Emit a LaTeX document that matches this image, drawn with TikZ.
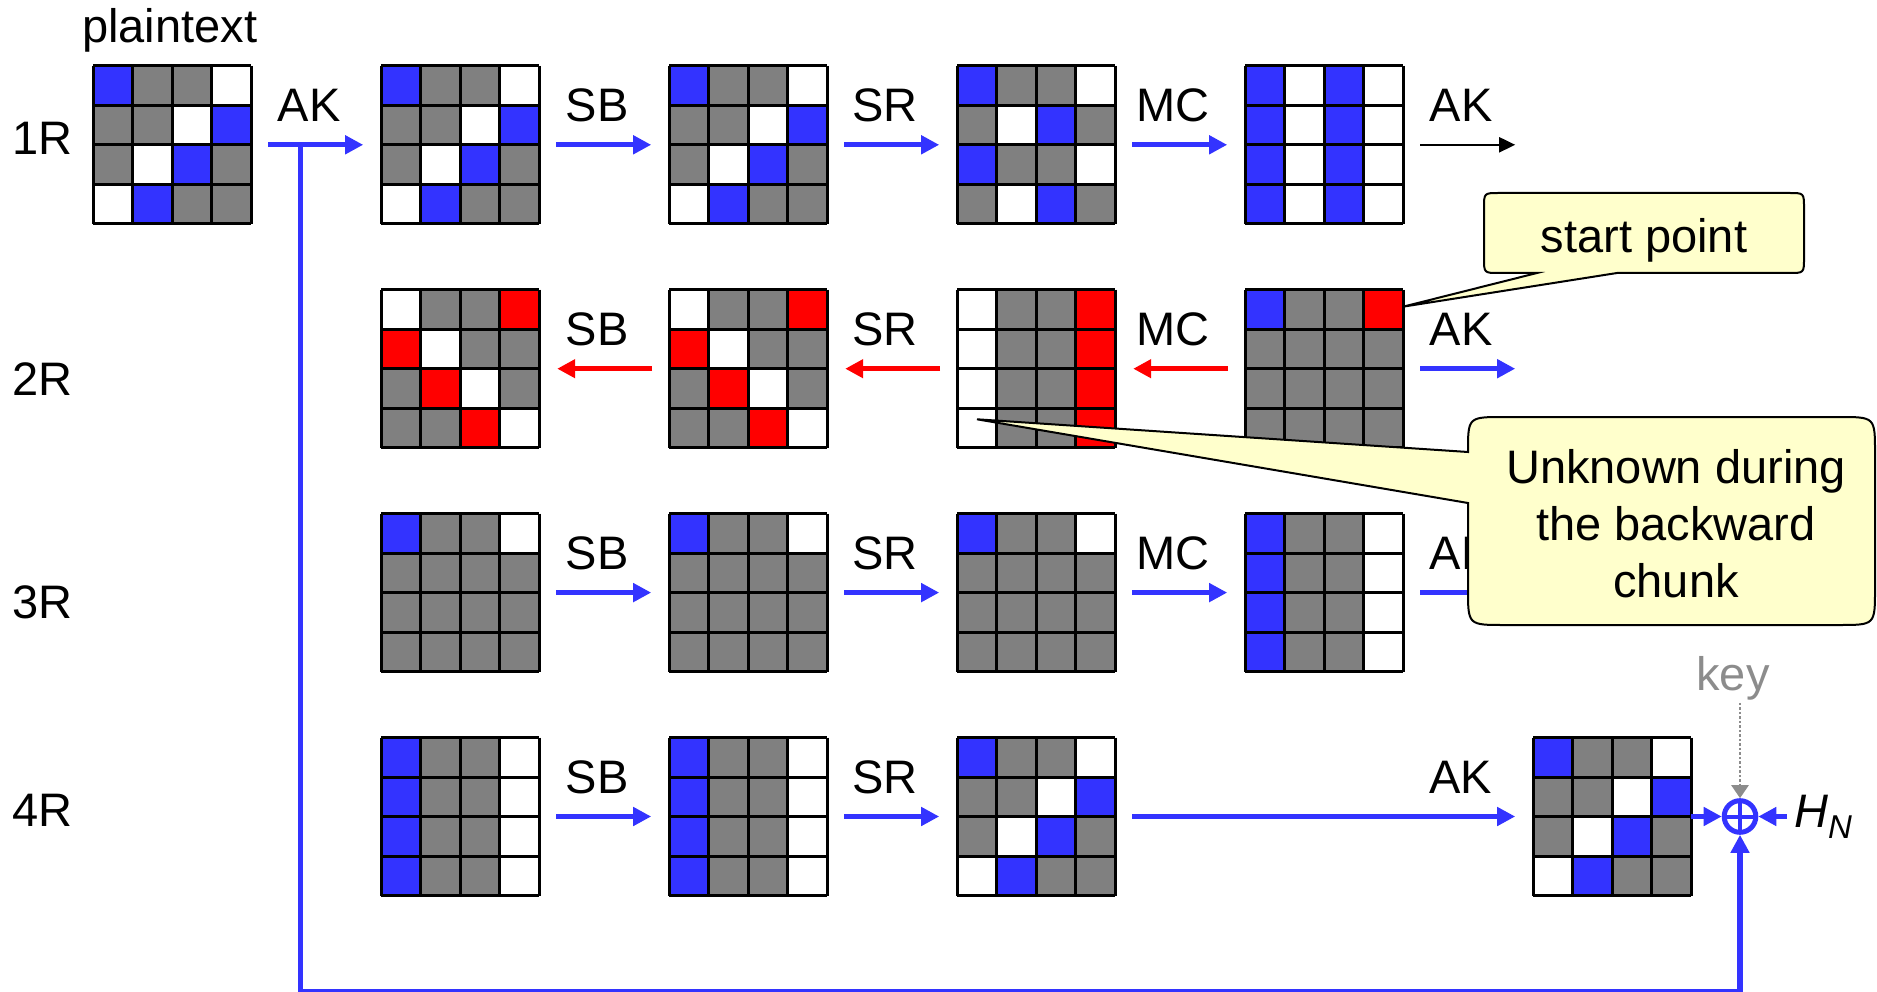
\documentclass[tikz,border=0pt]{standalone}
\usepackage{fontspec}
\setmainfont{Liberation Sans}
\usetikzlibrary{arrows.meta,calc}

\definecolor{cellB}{HTML}{3333FF}
\definecolor{cellG}{HTML}{808080}
\definecolor{cellW}{HTML}{FFFFFF}
\definecolor{cellR}{HTML}{FF0000}
\definecolor{flowblue}{HTML}{3333FF}
\definecolor{flowred}{HTML}{FF0000}
\definecolor{keygray}{HTML}{8C8C8C}
\definecolor{notefill}{HTML}{FFFFCC}

\tikzset{
  statebox/.style={rectangle, minimum size=158pt, inner sep=0pt, outer sep=0pt},
  gridline/.style={draw=black, line width=3pt, line cap=square},
  bigtext/.style={font=\fontsize{47}{54}\selectfont},
  stepname/.style={bigtext, anchor=base, inner sep=0pt, yshift=23pt, xshift=-7pt, text=black},
  roundname/.style={bigtext, anchor=base west, inner sep=0pt},
  fwd/.style={draw=flowblue, line width=5pt, -{Triangle[length=18pt,width=18pt]},
              shorten <=17pt, shorten >=18pt},
  bwd/.style={fwd, draw=flowred},
  thinfwd/.style={draw=black, line width=2pt, -{Triangle[length=16pt,width=15pt]},
              shorten <=17pt, shorten >=18pt},
  xorop/.style={circle, draw=flowblue, line width=5pt, minimum size=31.6pt, inner sep=0pt},
  xorbar/.style={draw=flowblue, line width=4pt},
  keyflow/.style={draw=keygray, line width=2.5pt, dash pattern=on 2.5pt off 2pt,
              -{Triangle[length=13pt,width=17pt]}, shorten <=3pt},
  callout/.style={fill=notefill, draw=black, line width=2pt, line join=miter},
  notetext/.style={bigtext, anchor=base, inner sep=0pt},
}

% one 4x4 AES state: name, centre x, centre y, 16 cell colours row by row
\newcommand{\aesgrid}[4]{%
  \node[statebox] (#1) at (#2,#3) {};
  \foreach \c [count=\i from 0] in {#4} {
    \pgfmathtruncatemacro{\cellrow}{floor(\i/4)}
    \pgfmathtruncatemacro{\cellcol}{mod(\i,4)}
    \fill[cell\c] ($(#1.north west)+(39.5*\cellcol,39.5*\cellrow)$) rectangle +(39.5,39.5);
  }
  \foreach \k in {0,...,4} {
    \draw[gridline] ($(#1.north west)+(39.5*\k,0)$) -- +(0,158);
    \draw[gridline] ($(#1.north west)+(0,39.5*\k)$) -- +(158,0);
  }
}

\begin{document}
\begin{tikzpicture}[x=1pt,y=-1pt]
\useasboundingbox (0,0) rectangle (1877,992);
\clip (0,0) rectangle (1877,992);

% final key addition
\node[xorop] (xor) at (1740,816.5) {};
\draw[xorbar] ([yshift=15.8pt]xor.center) -- ([yshift=-15.8pt]xor.center);
\draw[xorbar] ([xshift=-15.8pt]xor.center) -- ([xshift=15.8pt]xor.center);

% feed-forward of the plaintext
\coordinate (tap) at (300.3,144.8);
\coordinate (fbturn) at (300.3,992);
\draw[draw=flowblue, line width=5.5pt, -{Triangle[length=18pt,width=18pt]}]
  (tap) -- (fbturn) -| (xor);

% labels
\node[roundname] (ptlabel) at (82,43) {plaintext};
\node[roundname] (r1) at (12,155) {1R};
\node[roundname] (r2) at (12,395) {2R};
\node[roundname] (r3) at (12,618) {3R};
\node[roundname] (r4) at (12,826) {4R};

% round 1
\aesgrid{pt}{172.2}{144.8}{B,G,G,W,G,G,W,B,G,W,B,G,W,B,G,G}
\aesgrid{a12}{460.2}{144.8}{B,G,G,W,G,G,W,B,G,W,B,G,W,B,G,G}
\aesgrid{a13}{748.2}{144.8}{B,G,G,W,G,G,W,B,G,W,B,G,W,B,G,G}
\aesgrid{a14}{1036.2}{144.8}{B,G,G,W,G,W,B,G,B,G,G,W,G,W,B,G}
\aesgrid{a15}{1324.2}{144.8}{B,W,B,W,B,W,B,W,B,W,B,W,B,W,B,W}
\coordinate (o1) at (1533.2,144.8);
\draw[fwd] (pt) -- node[stepname] (l11) {AK} (a12);
\draw[fwd] (a12) -- node[stepname] (l12) {SB} (a13);
\draw[fwd] (a13) -- node[stepname] (l13) {SR} (a14);
\draw[fwd] (a14) -- node[stepname] (l14) {MC} (a15);
\draw[thinfwd] (a15) -- node[stepname] (l15) {AK} (o1);

% round 2 (backward chunk)
\aesgrid{a22}{460.2}{368.7}{W,G,G,R,R,W,G,G,G,R,W,G,G,G,R,W}
\aesgrid{a23}{748.2}{368.7}{W,G,G,R,R,W,G,G,G,R,W,G,G,G,R,W}
\aesgrid{a24}{1036.2}{368.7}{W,G,G,R,W,G,G,R,W,G,G,R,W,G,G,R}
\aesgrid{a25}{1324.2}{368.7}{B,G,G,R,G,G,G,G,G,G,G,G,G,G,G,G}
\coordinate (o2) at (1533.2,368.7);
\draw[bwd] (a23) -- node[stepname] (l22) {SB} (a22);
\draw[bwd] (a24) -- node[stepname] (l23) {SR} (a23);
\draw[bwd] (a25) -- node[stepname] (l24) {MC} (a24);
\draw[fwd] (a25) -- node[stepname] (l25) {AK} (o2);

% round 3
\aesgrid{a32}{460.2}{592.6}{B,G,G,W,G,G,G,G,G,G,G,G,G,G,G,G}
\aesgrid{a33}{748.2}{592.6}{B,G,G,W,G,G,G,G,G,G,G,G,G,G,G,G}
\aesgrid{a34}{1036.2}{592.6}{B,G,G,W,G,G,G,G,G,G,G,G,G,G,G,G}
\aesgrid{a35}{1324.2}{592.6}{B,G,G,W,B,G,G,W,B,G,G,W,B,G,G,W}
\coordinate (o3) at (1533.2,592.6);
\draw[fwd] (a32) -- node[stepname] (l32) {SB} (a33);
\draw[fwd] (a33) -- node[stepname] (l33) {SR} (a34);
\draw[fwd] (a34) -- node[stepname] (l34) {MC} (a35);
\draw[fwd] (a35) -- node[stepname] (l35) {AK} (o3);

% round 4
\aesgrid{a42}{460.2}{816.5}{B,G,G,W,B,G,G,W,B,G,G,W,B,G,G,W}
\aesgrid{a43}{748.2}{816.5}{B,G,G,W,B,G,G,W,B,G,G,W,B,G,G,W}
\aesgrid{a44}{1036.2}{816.5}{B,G,G,W,G,G,W,B,G,W,B,G,W,B,G,G}
\aesgrid{a46}{1612.2}{816.5}{B,G,G,W,G,G,W,B,G,W,B,G,W,B,G,G}
\draw[fwd] (a42) -- node[stepname] (l42) {SB} (a43);
\draw[fwd] (a43) -- node[stepname] (l43) {SR} (a44);
\draw[fwd] (a44) -- node[stepname, pos=0.843] (l44) {AK} (a46);

% inputs of the final addition
\draw[fwd, shorten <=0pt, shorten >=0pt] (a46) -- (xor);
\node[bigtext, anchor=base west, inner sep=0pt] (hn) at (1794,827)
  {\textit{H}\raisebox{-11pt}{\fontsize{33}{34}\selectfont\textit{N}}};
\draw[fwd, shorten <=7pt, shorten >=0pt] (hn.west |- xor) -- (xor);
\node[bigtext, anchor=base, inner sep=0pt, text=keygray] (key) at (1733,690) {key};
\draw[keyflow] (xor |- key.south) -- (xor);

% callout: start point
\path[callout]
  (1499,193) -- (1789,193) .. controls (1804,193) .. (1804,208)
  -- (1804,258) .. controls (1804,273) .. (1789,273)
  -- (1617,273) -- (1403,306.7) -- (1537,273)
  -- (1499,273) .. controls (1484,273) .. (1484,258)
  -- (1484,208) .. controls (1484,193) .. (1499,193) -- cycle;
\node[notetext] (startnote) at (1644,253) {start point};

% callout: unknown cells
\path[callout]
  (1504,417) -- (1839,417) .. controls (1875,417) .. (1875,453)
  -- (1875,589) .. controls (1875,625) .. (1839,625)
  -- (1504,625) .. controls (1468,625) .. (1468,589)
  -- (1468,503) -- (977,419.3) -- (1468,452)
  .. controls (1468,417) .. (1504,417) -- cycle;
\node[notetext] (unk1) at (1676,483) {Unknown during};
\node[notetext] (unk2) at (1676,540) {the backward};
\node[notetext] (unk3) at (1676,597) {chunk};
\end{tikzpicture}
\end{document}
